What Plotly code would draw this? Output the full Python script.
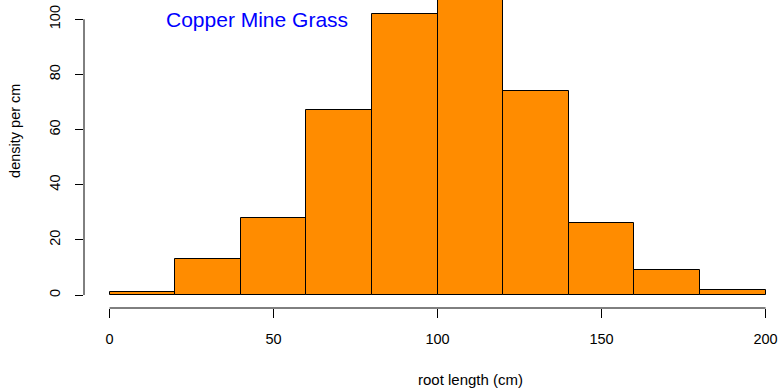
import plotly.graph_objects as go

# histogram of root lengths, bins of 20 cm
bin_edges = [0, 20, 40, 60, 80, 100, 120, 140, 160, 180, 200]
counts = [1, 13, 28, 67, 102, 110, 74, 26, 9, 2]
x_ticks = [0, 50, 100, 150, 200]
y_ticks = [0, 20, 40, 60, 80, 100]

mids = [(a + b) / 2 for a, b in zip(bin_edges[:-1], bin_edges[1:])]
widths = [b - a for a, b in zip(bin_edges[:-1], bin_edges[1:])]

font = "Liberation Sans, Arial, sans-serif"

fig = go.Figure()
fig.add_trace(go.Bar(x=mids, y=counts, width=widths,
                     marker=dict(color="#FF8C00", line=dict(color="black", width=1)),
                     showlegend=False, hoverinfo="skip"))

# R-style axis lines that only span the tick range
fig.add_shape(type="line", xref="x", yref="paper", x0=x_ticks[0], x1=x_ticks[-1], y0=0, y1=0,
              line=dict(color="black", width=1))
fig.add_shape(type="line", xref="paper", yref="y", x0=0, x1=0, y0=y_ticks[0], y1=y_ticks[-1],
              line=dict(color="black", width=1))

fig.add_annotation(text="Copper Mine Grass", x=45, y=100, xref="x", yref="y",
                   xanchor="center", yanchor="middle",
                   showarrow=False, font=dict(family=font, size=21, color="blue"))
fig.add_annotation(text="root length (cm)", x=0.554, y=-0.233, xref="paper", yref="paper",
                   xanchor="center", yanchor="middle",
                   showarrow=False, font=dict(family=font, size=15, color="black"))
fig.add_annotation(text="density per cm", x=-0.099, y=0.575, xref="paper", yref="paper",
                   xanchor="center", yanchor="middle",
                   textangle=-90, showarrow=False, font=dict(family=font, size=14.5, color="black"))

fig.update_xaxes(range=[-7.8, 204.7], tickvals=x_ticks, ticks="outside", ticklen=9,
                 tickcolor="black", showgrid=False, zeroline=False, showline=False,
                 tickfont=dict(family=font, size=14.5, color="black"), ticklabelstandoff=9)
fig.update_yaxes(range=[-4.7, 107], tickvals=y_ticks, ticks="outside", ticklen=8,
                 tickcolor="black", showgrid=False, zeroline=False, showline=False,
                 tickangle=-90, tickfont=dict(family=font, size=14.5, color="black"),
                 ticklabelstandoff=9)

fig.update_layout(width=781, height=390, plot_bgcolor="white", paper_bgcolor="white",
                  margin=dict(l=84, r=0, t=0, b=82), bargap=0)

fig.write_html("out.html", config={"displayModeBar": False},
               post_script="document.body.style.margin='0';")
